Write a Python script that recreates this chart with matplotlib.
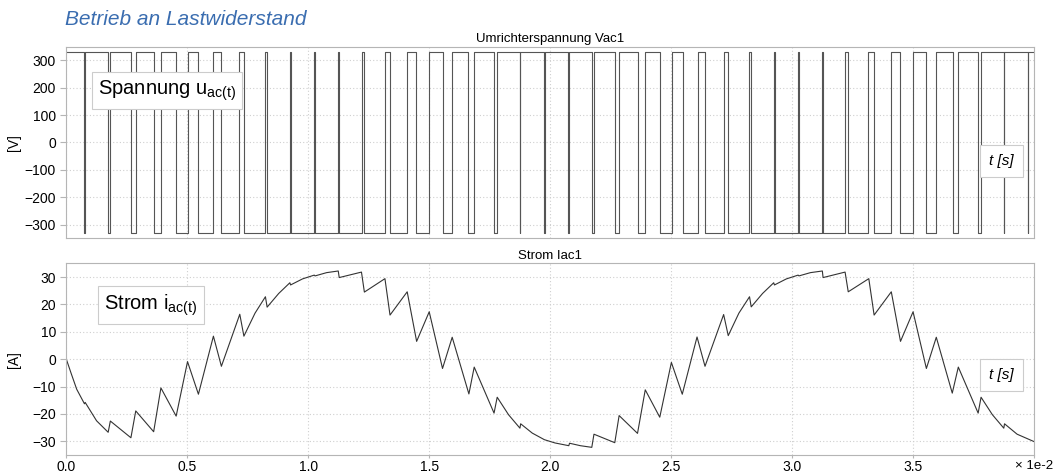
import numpy as np
import matplotlib
matplotlib.use("Agg")
import matplotlib.pyplot as plt
from matplotlib.ticker import FuncFormatter, MultipleLocator

plt.rcParams["font.family"] = ["Liberation Sans", "DejaVu Sans"]
plt.rcParams["mathtext.fontset"] = "custom"
plt.rcParams["mathtext.rm"] = "Liberation Sans"
plt.rcParams["mathtext.it"] = "Liberation Sans:italic"

# Umrichterspannung: Schaltzeitpunkte in ms (Start auf +330 V), jeweils (aus, ein)
u_level = 330
u_down_ms = [0.75, 1.72, 2.66, 3.62, 4.55, 5.45, 6.39, 7.33, 8.28, 9.27, 10.28,
             11.28, 12.32, 13.39, 14.47, 15.55, 16.62, 17.69, 18.74, 19.74,
             20.75, 21.72, 22.68, 23.61, 24.55, 25.47, 26.41, 27.36, 28.30,
             29.29, 30.28, 31.28, 32.32, 33.40, 34.46, 35.55, 36.63, 37.69,
             38.74, 39.74]
u_up_ms = [0.78, 1.82, 2.86, 3.91, 5.01, 6.07, 7.15, 8.22, 9.24, 10.25, 11.25,
           12.21, 13.16, 14.09, 15.00, 15.95, 16.87, 17.81, 18.77, 19.77,
           20.78, 21.82, 22.85, 23.93, 25.02, 26.09, 27.18, 28.22, 29.26,
           30.25, 31.25, 32.19, 33.15, 34.09, 35.00, 35.94, 36.86, 37.80,
           38.77, 39.77]
t_end_ms = 40.0

# Strom Iac1: Eckpunkte der Kurve (ms, A)
i_t_ms = [0.0, 0.2, 0.43, 0.75, 0.78, 1.25, 1.73, 1.82, 2.67, 2.87, 3.61, 3.91,
          4.54, 5.01, 5.46, 6.08, 6.41, 7.17, 7.34, 7.8, 8.23, 8.30, 8.78, 9.24,
          9.27, 9.76, 10.25, 10.28, 10.76, 11.24, 11.28, 12.20, 12.32, 13.17,
          13.38, 14.09, 14.48, 15.00, 15.55, 15.95, 16.64, 16.86, 17.68, 17.81,
          18.28, 18.75, 18.78, 19.26, 19.76, 20.2, 20.77, 20.80, 21.25, 21.72,
          21.81, 22.67, 22.85, 23.61, 23.93, 24.53, 25.01, 25.46, 26.07, 26.40,
          27.17, 27.36, 27.8, 28.24, 28.31, 28.78, 29.24, 29.27, 29.76, 30.25,
          30.28, 30.76, 31.25, 31.28, 32.19, 32.32, 33.17, 33.39, 34.10, 34.48,
          35.00, 35.55, 35.96, 36.62, 36.87, 37.69, 37.81, 38.28, 38.75, 38.78,
          39.3, 40.0]
i_val = [0.0, -5.2, -11.0, -16.3, -15.8, -22.5, -26.7, -22.6, -28.7, -18.9,
         -26.5, -10.5, -20.8, -0.9, -12.8, 8.4, -2.6, 16.4, 8.4, 16.8, 22.8,
         19.0, 24.0, 27.9, 27.1, 29.3, 30.7, 30.4, 31.6, 32.2, 29.8, 31.8, 24.5,
         29.4, 16.1, 24.6, 6.5, 17.3, -3.4, 8.0, -12.7, -2.9, -19.7, -13.9,
         -20.3, -25.2, -23.6, -27.0, -29.4, -30.6, -31.6, -30.7, -31.6, -32.2,
         -27.4, -30.5, -20.6, -27.1, -11.2, -21.2, -1.2, -12.8, 8.1, -2.6, 16.3,
         8.6, 16.8, 22.8, 19.1, 24.0, 27.9, 27.1, 29.3, 30.7, 30.4, 31.6, 32.2,
         29.8, 31.8, 24.6, 29.4, 16.1, 24.6, 6.5, 17.3, -3.4, 8.0, -12.4, -2.9,
         -19.7, -13.9, -20.3, -25.2, -23.6, -27.4, -30.1]

# Stufenverlauf aus den Schaltzeiten zusammensetzen
t_u = [0.0]
u_val = [u_level]
for d, up in zip(u_down_ms, u_up_ms):
    t_u += [d, up]
    u_val += [-u_level, u_level]
t_u.append(t_end_ms)
u_val.append(u_level)
t_u = np.array(t_u) * 1e-3
i_t = np.array(i_t_ms) * 1e-3

fig = plt.figure(figsize=(10.56, 4.76), dpi=100)
ax1 = fig.add_axes([0.0628, 0.499, 0.9164, 0.4033])
ax2 = fig.add_axes([0.0628, 0.0441, 0.9164, 0.4027])

ax1.step(t_u, u_val, where="post", color="#555555", lw=0.8)
ax2.plot(i_t, i_val, color="#333333", lw=0.8)

for ax in (ax1, ax2):
    ax.set_xlim(0, 0.04)
    ax.xaxis.set_major_locator(MultipleLocator(0.005))
    ax.grid(True, color="#cfcfcf", linestyle=(0, (1, 2)), lw=0.8)
    for s in ax.spines.values():
        s.set_color("#b5b5b5")
    ax.tick_params(axis="both", colors="#b5b5b5", labelcolor="black",
                   labelsize=10, length=4)
    ax.yaxis.set_label_coords(-0.047, 0.5)

ax1.set_ylim(-350, 350)
ax1.yaxis.set_major_locator(MultipleLocator(100))
ax1.tick_params(axis="x", labelbottom=False, length=0)
ax2.set_ylim(-35, 35)
ax2.yaxis.set_major_locator(MultipleLocator(10))
ax2.tick_params(axis="x", pad=1.5, length=2)
ax2.xaxis.set_major_formatter(FuncFormatter(
    lambda v, p: "" if v > 0.0395 else f"{v * 100:.1f}"))

ax1.set_title("Umrichterspannung Vac1", fontsize=9.5, pad=3)
ax2.set_title("Strom Iac1", fontsize=9.5, pad=3)
ax1.set_ylabel("[V]", fontsize=10)
ax2.set_ylabel("[A]", fontsize=10)
fig.text(0.997, 0.022, "× 1e-2", ha="right", va="center", fontsize=9.5)

box = dict(boxstyle="square,pad=0.3", fc="white", ec="#cccccc", lw=0.8)
ax1.text(0.1037, 0.771, r"Spannung u$_{\mathrm{ac(t)}}$", transform=ax1.transAxes,
         ha="center", va="center", fontsize=14.5, bbox=box)
ax2.text(0.0875, 0.7825, r"Strom i$_{\mathrm{ac(t)}}$", transform=ax2.transAxes,
         ha="center", va="center", fontsize=14.5, bbox=box)
tbox = dict(boxstyle="square,pad=0.6", fc="white", ec="#cccccc", lw=0.8)
ax1.text(0.9666, 0.4036, "t [s]", transform=ax1.transAxes, ha="center",
         va="center", fontsize=11, style="italic", bbox=tbox)
ax2.text(0.9666, 0.4173, "t [s]", transform=ax2.transAxes, ha="center",
         va="center", fontsize=11, style="italic", bbox=tbox)

fig.text(0.0615, 0.96, "Betrieb an Lastwiderstand", fontsize=15, style="italic",
         color="#3a6db0", va="center", ha="left")

fig.savefig("out.png", dpi=100)
